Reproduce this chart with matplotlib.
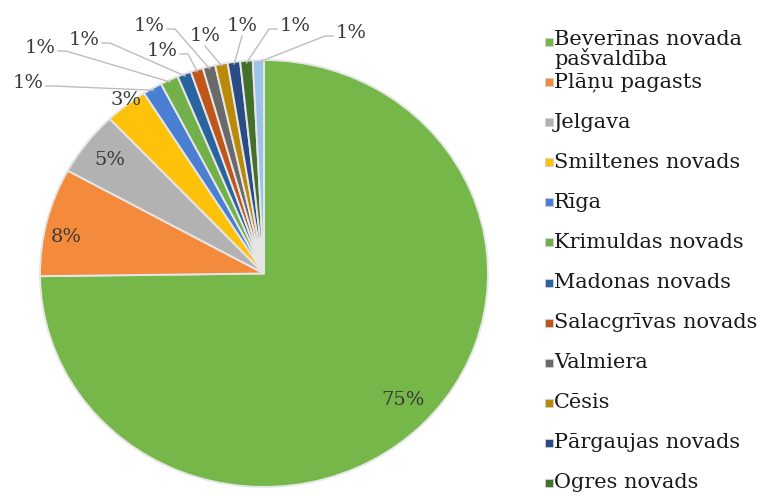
import numpy as np
import matplotlib
matplotlib.use("Agg")
import matplotlib.pyplot as plt
from matplotlib.patches import Rectangle

plt.rcParams['font.family'] = ['DejaVu Serif']

# ---- data ----
names = ["Beverīnas novada\npašvaldība", "Plāņu pagasts", "Jelgava", "Smiltenes novads",
         "Rīga", "Krimuldas novads", "Madonas novads", "Salacgrīvas novads",
         "Valmiera", "Cēsis", "Pārgaujas novads", "Ogres novads", "Citi"]
values = [74.8, 8.2, 4.9, 3.1, 1.4, 1.3, 1.0, 0.9, 0.9, 0.9, 0.9, 0.9, 0.8]
colors = ["#76B74A", "#F48A3C", "#B2B2B2", "#FFC20A", "#4A7FD3", "#72B04A",
          "#2A64A0", "#C0561A", "#6A6A6A", "#B88A08", "#2A4C86", "#44702E", "#9CC4EA"]
legend_count = 12

# ---- layout (pixels) ----
W, H = 760, 496
cx, cy, rx, ry = 264, 273.5, 224, 213.5
inside_r = [0.86, 0.9, 0.87, 1.02]
inside_dt = [1, 3, 0, -1]
outside_pos = [(28, 83), (40, 48), (84, 40), (162, 51), (149, 26),
               (205, 36), (242, 26), (295, 26), (351, 33)]

def px(x):
    return cx + rx * x

def py(y):
    return cy - ry * y

fig = plt.figure(figsize=(W / 100, H / 100), dpi=100)
ax = fig.add_axes([0, 0, 1, 1])
wedges, _ = ax.pie(values, colors=colors, startangle=90, counterclock=False,
                   wedgeprops=dict(edgecolor="#E6E6E6", linewidth=1.4))
ax.set_aspect('auto')
ax.set_xlim(-cx / rx, (W - cx) / rx)
ax.set_ylim((cy - H) / ry, cy / ry)
ax.axis('off')

ov = fig.add_axes([0, 0, 1, 1])
ov.set_xlim(0, W)
ov.set_ylim(H, 0)
ov.axis('off')

txtcol = "#3A3A3A"
for i, (w, v) in enumerate(zip(wedges, values)):
    mid = np.deg2rad((w.theta1 + w.theta2) / 2)
    lab = f"{round(v)}%"
    if i < len(inside_r):
        r = inside_r[i]
        a = mid + np.deg2rad(inside_dt[i])
        ov.text(px(r * np.cos(a)), py(r * np.sin(a)), lab, ha='center', va='center',
                fontsize=14, color=txtcol)
    else:
        lx, ly = outside_pos[i - len(inside_r)]
        ov.text(lx, ly, lab, ha='center', va='center', fontsize=14, color=txtcol)
        ex, ey = px(0.99 * np.cos(mid)), py(0.99 * np.sin(mid))
        half = 16
        if ex > lx + half + 6:
            sx, sy = lx + half + 2, ly + 3
            pts = [(sx, sy), (sx + 8, sy), (ex, ey)]
        elif ex < lx - half - 6:
            sx, sy = lx - half - 2, ly + 3
            pts = [(sx, sy), (sx - 8, sy), (ex, ey)]
        else:
            pts = [(lx, ly + 10), (ex, ey)]
        xs, ys = zip(*pts)
        ov.plot(xs, ys, color="#BDBDBD", lw=1.0)

# ---- legend ----
leg_x = 549
leg_ys = [42] + [82 + 40.1 * (k - 1) for k in range(1, legend_count)]
for k in range(legend_count):
    y = leg_ys[k]
    ov.add_patch(Rectangle((leg_x - 4, y - 4), 8, 8, facecolor=colors[k],
                           edgecolor="#D0D0D0", lw=0.6))
    if k == 0:
        ov.text(leg_x + 5, y - 12, names[k], ha='left', va='top',
                fontsize=15, color="#1A1A1A", linespacing=0.92)
    else:
        ov.text(leg_x + 5, y, names[k], ha='left', va='center',
                fontsize=15, color="#1A1A1A")

fig.savefig("out.png", dpi=100)
